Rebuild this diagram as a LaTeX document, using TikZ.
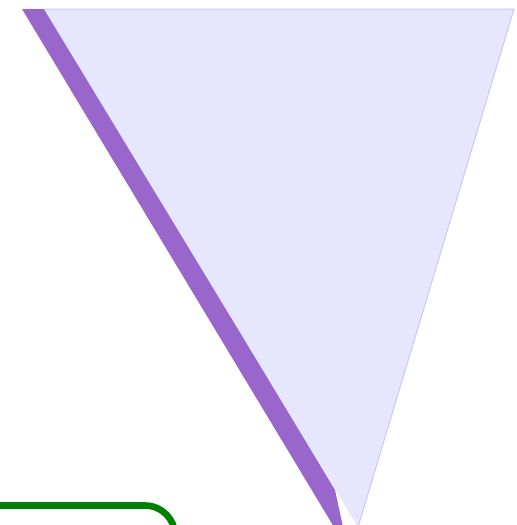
\documentclass[tikz,border=0pt]{standalone}
\definecolor{amethyst}{HTML}{9966CC}
\definecolor{lavfill}{HTML}{E6E6FF}
\definecolor{lavline}{HTML}{C8C8F0}
\definecolor{darkgreen}{HTML}{008000}
\begin{document}
\begin{tikzpicture}[x=0.5pt, y=-0.5pt]
  \useasboundingbox (0,0) rectangle (517,525);
  \clip (0,0) rectangle (517,525);

  % purple band
  \fill[amethyst] (22,9) -- (46,9) -- (335,490) -- (343,527) -- (334,527) -- cycle;

  % triangle
  \fill[lavfill] (44,9) -- (514,9) -- (358,527) -- cycle;
  \draw[lavline, line width=0.5pt] (44,9) -- (514,9) -- (358,527);

  % green path
  \draw[darkgreen, line width=3.3pt, rounded corners=15pt] (-5,505.5) -- (175,505.5) -- (175,570);
\end{tikzpicture}
\end{document}
